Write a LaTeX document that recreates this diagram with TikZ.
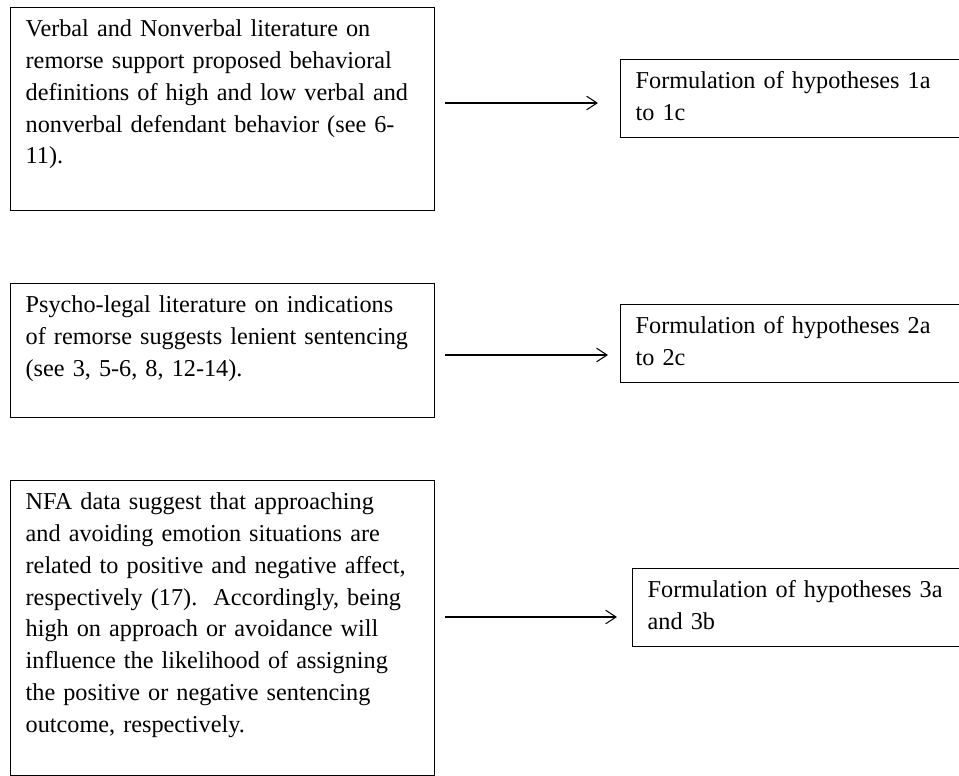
\documentclass[tikz,border=0pt]{standalone}
\usepackage{fontspec}
\setmainfont{Liberation Serif}
\usetikzlibrary{arrows.meta}
\newcommand{\boxfont}{\fontsize{11.6}{15.2}\selectfont\hyphenpenalty=10000\relax\exhyphenpenalty=10000\relax}

\begin{document}
\begin{tikzpicture}[x=0.4785pt,y=-0.4785pt,>={Straight Barb[length=5pt,width=6.5pt]},
every node/.style={font=\boxfont},
litbox/.style={draw,line width=0.6pt,anchor=north west,align=left,inner xsep=7.2pt,inner ysep=0pt,text width=188.5pt,text height=14pt,text depth=#1},
hypbox/.style={litbox=#1,text width=147.8pt}]
\useasboundingbox (0,0) rectangle (959,776);
\node[litbox=83.1pt] (lit1) at (10,7) {Verbal and Nonverbal literature on\\ remorse support proposed behavioral\\ definitions of high and low verbal and\\ nonverbal defendant behavior (see 6-\\ 11).};
\node[litbox=50.1pt] (lit2) at (10,283) {Psycho-legal literature on indications\\ of remorse suggests lenient sentencing\\ (see 3, 5-6, 8, 12-14).};
\node[litbox=127.2pt] (lit3) at (10,480) {NFA data suggest that approaching\\ and avoiding emotion situations are\\ related to positive and negative affect,\\ respectively (17).\ \ Accordingly, being\\ high on approach or avoidance will\\ influence the likelihood of assigning\\ the positive or negative sentencing\\ outcome, respectively.};
\node[hypbox=23.3pt] (hyp1) at (620,59) {Formulation of hypotheses 1a\\ to 1c};
\node[hypbox=23.3pt] (hyp2) at (620,304) {Formulation of hypotheses 2a\\ to 2c};
\node[hypbox=23.3pt] (hyp3) at (632,568) {Formulation of hypotheses 3a\\ and 3b};
\coordinate (s1) at (445,103); \coordinate (e1) at (598,103);
\coordinate (s2) at (445,355); \coordinate (e2) at (608,355);
\coordinate (s3) at (445,617); \coordinate (e3) at (617,617);
\draw[->,line width=0.5pt] (s1)--(e1);
\draw[->,line width=0.5pt] (s2)--(e2);
\draw[->,line width=0.5pt] (s3)--(e3);
\end{tikzpicture}
\end{document}
